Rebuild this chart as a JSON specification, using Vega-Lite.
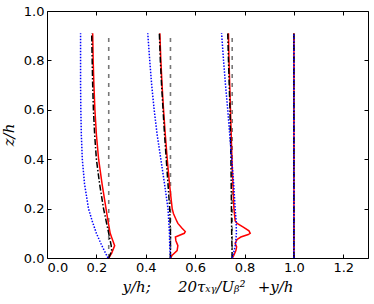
{
  "$schema": "https://vega.github.io/schema/vega-lite/v6.json",
  "width": 321,
  "height": 247,
  "autosize": {"type": "none"},
  "padding": {"left": 47, "top": 11, "right": 6, "bottom": 46},
  "config": {
    "view": {"stroke": "#000000", "strokeWidth": 1},
    "axis": {
      "grid": false,
      "domain": false,
      "tickSize": -4,
      "tickColor": "#000000",
      "labelPadding": 7,
      "labelFont": "DejaVu Sans",
      "labelFontSize": 13,
      "labelColor": "#000000",
      "titleFont": "DejaVu Serif",
      "titleFontStyle": "italic",
      "titleFontWeight": "normal",
      "titleFontSize": 15,
      "titleColor": "#000000"
    }
  },
  "data": {
    "values": [
      {"s": "r", "g": 1, "z": 0, "x": 0.25},
      {"s": "r", "g": 1, "z": 0.02, "x": 0.262},
      {"s": "r", "g": 1, "z": 0.05, "x": 0.274},
      {"s": "r", "g": 1, "z": 0.08, "x": 0.263},
      {"s": "r", "g": 1, "z": 0.1, "x": 0.256},
      {"s": "r", "g": 1, "z": 0.15, "x": 0.247},
      {"s": "r", "g": 1, "z": 0.2, "x": 0.239},
      {"s": "r", "g": 1, "z": 0.3, "x": 0.223},
      {"s": "r", "g": 1, "z": 0.4, "x": 0.209},
      {"s": "r", "g": 1, "z": 0.5, "x": 0.2},
      {"s": "r", "g": 1, "z": 0.6, "x": 0.194},
      {"s": "r", "g": 1, "z": 0.7, "x": 0.19},
      {"s": "r", "g": 1, "z": 0.8, "x": 0.187},
      {"s": "r", "g": 1, "z": 0.91, "x": 0.185},
      {"s": "k", "g": 1, "z": 0, "x": 0.25},
      {"s": "k", "g": 1, "z": 0.03, "x": 0.262},
      {"s": "k", "g": 1, "z": 0.05, "x": 0.26},
      {"s": "k", "g": 1, "z": 0.1, "x": 0.25},
      {"s": "k", "g": 1, "z": 0.2, "x": 0.229},
      {"s": "k", "g": 1, "z": 0.3, "x": 0.213},
      {"s": "k", "g": 1, "z": 0.4, "x": 0.2},
      {"s": "k", "g": 1, "z": 0.5, "x": 0.193},
      {"s": "k", "g": 1, "z": 0.6, "x": 0.188},
      {"s": "k", "g": 1, "z": 0.7, "x": 0.185},
      {"s": "k", "g": 1, "z": 0.8, "x": 0.183},
      {"s": "k", "g": 1, "z": 0.91, "x": 0.181},
      {"s": "b", "g": 1, "z": 0, "x": 0.247},
      {"s": "b", "g": 1, "z": 0.05, "x": 0.222},
      {"s": "b", "g": 1, "z": 0.1, "x": 0.2},
      {"s": "b", "g": 1, "z": 0.15, "x": 0.183},
      {"s": "b", "g": 1, "z": 0.2, "x": 0.168},
      {"s": "b", "g": 1, "z": 0.3, "x": 0.152},
      {"s": "b", "g": 1, "z": 0.4, "x": 0.143},
      {"s": "b", "g": 1, "z": 0.5, "x": 0.139},
      {"s": "b", "g": 1, "z": 0.6, "x": 0.137},
      {"s": "b", "g": 1, "z": 0.7, "x": 0.136},
      {"s": "b", "g": 1, "z": 0.8, "x": 0.136},
      {"s": "b", "g": 1, "z": 0.91, "x": 0.136},
      {"s": "r", "g": 2, "z": 0, "x": 0.5},
      {"s": "r", "g": 2, "z": 0.01, "x": 0.506},
      {"s": "r", "g": 2, "z": 0.03, "x": 0.527},
      {"s": "r", "g": 2, "z": 0.05, "x": 0.53},
      {"s": "r", "g": 2, "z": 0.07, "x": 0.522},
      {"s": "r", "g": 2, "z": 0.085, "x": 0.52},
      {"s": "r", "g": 2, "z": 0.1, "x": 0.556},
      {"s": "r", "g": 2, "z": 0.107, "x": 0.56},
      {"s": "r", "g": 2, "z": 0.12, "x": 0.547},
      {"s": "r", "g": 2, "z": 0.14, "x": 0.53},
      {"s": "r", "g": 2, "z": 0.155, "x": 0.523},
      {"s": "r", "g": 2, "z": 0.18, "x": 0.512},
      {"s": "r", "g": 2, "z": 0.2, "x": 0.507},
      {"s": "r", "g": 2, "z": 0.3, "x": 0.496},
      {"s": "r", "g": 2, "z": 0.4, "x": 0.487},
      {"s": "r", "g": 2, "z": 0.5, "x": 0.479},
      {"s": "r", "g": 2, "z": 0.6, "x": 0.472},
      {"s": "r", "g": 2, "z": 0.7, "x": 0.466},
      {"s": "r", "g": 2, "z": 0.8, "x": 0.461},
      {"s": "r", "g": 2, "z": 0.91, "x": 0.457},
      {"s": "k", "g": 2, "z": 0, "x": 0.5},
      {"s": "k", "g": 2, "z": 0.1, "x": 0.5},
      {"s": "k", "g": 2, "z": 0.2, "x": 0.497},
      {"s": "k", "g": 2, "z": 0.3, "x": 0.49},
      {"s": "k", "g": 2, "z": 0.4, "x": 0.483},
      {"s": "k", "g": 2, "z": 0.5, "x": 0.476},
      {"s": "k", "g": 2, "z": 0.6, "x": 0.47},
      {"s": "k", "g": 2, "z": 0.7, "x": 0.464},
      {"s": "k", "g": 2, "z": 0.8, "x": 0.459},
      {"s": "k", "g": 2, "z": 0.91, "x": 0.455},
      {"s": "b", "g": 2, "z": 0, "x": 0.5},
      {"s": "b", "g": 2, "z": 0.05, "x": 0.497},
      {"s": "b", "g": 2, "z": 0.1, "x": 0.496},
      {"s": "b", "g": 2, "z": 0.2, "x": 0.49},
      {"s": "b", "g": 2, "z": 0.3, "x": 0.476},
      {"s": "b", "g": 2, "z": 0.4, "x": 0.461},
      {"s": "b", "g": 2, "z": 0.5, "x": 0.446},
      {"s": "b", "g": 2, "z": 0.6, "x": 0.434},
      {"s": "b", "g": 2, "z": 0.7, "x": 0.424},
      {"s": "b", "g": 2, "z": 0.8, "x": 0.416},
      {"s": "b", "g": 2, "z": 0.91, "x": 0.408},
      {"s": "r", "g": 3, "z": 0, "x": 0.75},
      {"s": "r", "g": 3, "z": 0.01, "x": 0.756},
      {"s": "r", "g": 3, "z": 0.03, "x": 0.765},
      {"s": "r", "g": 3, "z": 0.045, "x": 0.768},
      {"s": "r", "g": 3, "z": 0.06, "x": 0.762},
      {"s": "r", "g": 3, "z": 0.075, "x": 0.77},
      {"s": "r", "g": 3, "z": 0.085, "x": 0.785},
      {"s": "r", "g": 3, "z": 0.095, "x": 0.815},
      {"s": "r", "g": 3, "z": 0.1, "x": 0.823},
      {"s": "r", "g": 3, "z": 0.11, "x": 0.818},
      {"s": "r", "g": 3, "z": 0.125, "x": 0.795},
      {"s": "r", "g": 3, "z": 0.14, "x": 0.77},
      {"s": "r", "g": 3, "z": 0.15, "x": 0.762},
      {"s": "r", "g": 3, "z": 0.2, "x": 0.757},
      {"s": "r", "g": 3, "z": 0.3, "x": 0.753},
      {"s": "r", "g": 3, "z": 0.4, "x": 0.749},
      {"s": "r", "g": 3, "z": 0.5, "x": 0.746},
      {"s": "r", "g": 3, "z": 0.6, "x": 0.743},
      {"s": "r", "g": 3, "z": 0.7, "x": 0.74},
      {"s": "r", "g": 3, "z": 0.8, "x": 0.737},
      {"s": "r", "g": 3, "z": 0.91, "x": 0.735},
      {"s": "k", "g": 3, "z": 0, "x": 0.75},
      {"s": "k", "g": 3, "z": 0.1, "x": 0.748},
      {"s": "k", "g": 3, "z": 0.2, "x": 0.747},
      {"s": "k", "g": 3, "z": 0.3, "x": 0.746},
      {"s": "k", "g": 3, "z": 0.4, "x": 0.745},
      {"s": "k", "g": 3, "z": 0.5, "x": 0.743},
      {"s": "k", "g": 3, "z": 0.6, "x": 0.741},
      {"s": "k", "g": 3, "z": 0.7, "x": 0.738},
      {"s": "k", "g": 3, "z": 0.8, "x": 0.735},
      {"s": "k", "g": 3, "z": 0.91, "x": 0.732},
      {"s": "b", "g": 3, "z": 0, "x": 0.75},
      {"s": "b", "g": 3, "z": 0.03, "x": 0.758},
      {"s": "b", "g": 3, "z": 0.06, "x": 0.764},
      {"s": "b", "g": 3, "z": 0.1, "x": 0.767},
      {"s": "b", "g": 3, "z": 0.15, "x": 0.766},
      {"s": "b", "g": 3, "z": 0.2, "x": 0.762},
      {"s": "b", "g": 3, "z": 0.3, "x": 0.756},
      {"s": "b", "g": 3, "z": 0.4, "x": 0.748},
      {"s": "b", "g": 3, "z": 0.5, "x": 0.74},
      {"s": "b", "g": 3, "z": 0.6, "x": 0.732},
      {"s": "b", "g": 3, "z": 0.7, "x": 0.723},
      {"s": "b", "g": 3, "z": 0.8, "x": 0.715},
      {"s": "b", "g": 3, "z": 0.91, "x": 0.707},
      {"s": "r", "g": 4, "z": 0, "x": 1.0},
      {"s": "r", "g": 4, "z": 0.91, "x": 1.0},
      {"s": "k", "g": 4, "z": 0, "x": 1.0},
      {"s": "k", "g": 4, "z": 0.91, "x": 1.0},
      {"s": "b", "g": 4, "z": 0, "x": 1.0},
      {"s": "b", "g": 4, "z": 0.91, "x": 1.0},
      {"s": "d", "g": 1, "z": 0, "x": 0.25},
      {"s": "d", "g": 1, "z": 0.9, "x": 0.25},
      {"s": "d", "g": 2, "z": 0, "x": 0.5},
      {"s": "d", "g": 2, "z": 0.9, "x": 0.5},
      {"s": "d", "g": 3, "z": 0, "x": 0.75},
      {"s": "d", "g": 3, "z": 0.9, "x": 0.75},
      {"s": "d", "g": 4, "z": 0, "x": 1.0},
      {"s": "d", "g": 4, "z": 0.9, "x": 1.0}
    ]
  },
  "resolve": {"axis": {"x": "independent", "y": "independent"}},
  "layer": [
    {
      "transform": [{"filter": "datum.s === 'd'"}],
      "mark": {"type": "line", "color": "#777777", "strokeWidth": 1.6, "strokeDash": [4, 5]},
      "encoding": {
        "x": {"field": "x", "type": "quantitative", "scale": {"domain": [0, 1.3], "nice": false},
          "axis": {"orient": "bottom", "values": [0, 0.2, 0.4, 0.6, 0.8, 1.0, 1.2], "format": ".1f", "title": "y/h;\u2003\u2002 20τₓᵧ/Uᵦ²\u2002 +y/h", "titlePadding": 5}},
        "y": {"field": "z", "type": "quantitative", "scale": {"domain": [0, 1.0], "nice": false},
          "axis": {"orient": "left", "values": [0, 0.2, 0.4, 0.6, 0.8, 1.0], "format": ".1f", "title": "z/h", "titlePadding": 7}},
        "detail": {"field": "g"},
        "order": {"field": "z", "type": "quantitative"}
      }
    },
    {
      "transform": [{"filter": "datum.s === 'r'"}],
      "mark": {"type": "line", "color": "#ff0000", "strokeWidth": 1.5},
      "encoding": {
        "x": {"field": "x", "type": "quantitative", "scale": {"domain": [0, 1.3], "nice": false},
          "axis": {"orient": "top", "values": [0, 0.2, 0.4, 0.6, 0.8, 1.0, 1.2], "labels": false, "title": null}},
        "y": {"field": "z", "type": "quantitative", "scale": {"domain": [0, 1.0], "nice": false},
          "axis": {"orient": "right", "values": [0, 0.2, 0.4, 0.6, 0.8, 1.0], "labels": false, "title": null}},
        "detail": {"field": "g"},
        "order": {"field": "z", "type": "quantitative"}
      }
    },
    {
      "transform": [{"filter": "datum.s === 'k'"}],
      "mark": {"type": "line", "color": "#000000", "strokeWidth": 1.5, "strokeDash": [6, 2, 1.5, 2]},
      "encoding": {
        "x": {"field": "x", "type": "quantitative", "scale": {"domain": [0, 1.3], "nice": false}, "axis": null},
        "y": {"field": "z", "type": "quantitative", "scale": {"domain": [0, 1.0], "nice": false}, "axis": null},
        "detail": {"field": "g"},
        "order": {"field": "z", "type": "quantitative"}
      }
    },
    {
      "transform": [{"filter": "datum.s === 'b'"}],
      "mark": {"type": "line", "color": "#0000ff", "strokeWidth": 1.5, "strokeDash": [1.5, 1.5]},
      "encoding": {
        "x": {"field": "x", "type": "quantitative", "scale": {"domain": [0, 1.3], "nice": false}, "axis": null},
        "y": {"field": "z", "type": "quantitative", "scale": {"domain": [0, 1.0], "nice": false}, "axis": null},
        "detail": {"field": "g"},
        "order": {"field": "z", "type": "quantitative"}
      }
    }
  ]
}
